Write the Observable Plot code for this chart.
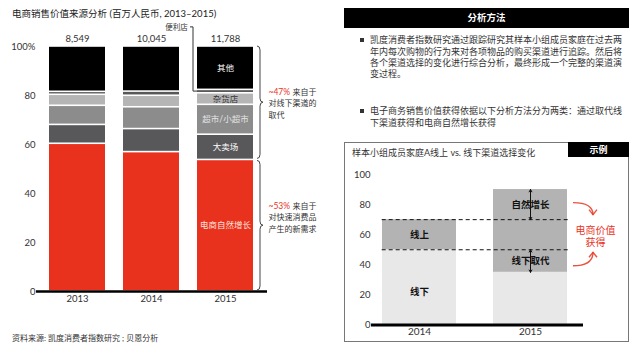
<!DOCTYPE html>
<html><head><meta charset="utf-8">
<script src="https://cdn.jsdelivr.net/npm/d3@7"></script>
<script src="https://cdn.jsdelivr.net/npm/@observablehq/plot@0.6"></script>
<style>
body{margin:0;background:#fff;}
#root{position:relative;width:640px;height:361px;overflow:hidden;background:#fff;font-family:Lato,"Noto Sans CJK SC",sans-serif;color:#333;}
.abs{position:absolute;white-space:nowrap;}
svg{position:absolute;overflow:visible;}
</style></head><body><div id="root"></div>
<script>
// ---------- data: main chart ----------
const years = ["2013", "2014", "2015"];
const totals = [8549, 10045, 11788];
const channels = ["电商自然增长", "大卖场", "超市/小超市", "杂货店", "便利店", "其他"];
const share2013 = [60.3, 7.7, 7.8, 4.5, 1.2, 18.5];
const share2014 = [56.9, 9.4, 8.9, 4.7, 1.7, 18.4];
const share2015 = [53.7, 10.3, 12.2, 4.7, 1.4, 17.7];
const yTicks = [0, 20, 40, 60, 80, 100];
const notePcts = ["~47%", "~53%"];
const noteFirst = ["来自于", "来自于"];
const noteRest = [["对线下渠道的", "取代"], ["对快速消费品", "产生的新需求"]];
const noteY = [76.7, 30.2];

// ---------- data: example chart ----------
const exYears = ["2014", "2015"];
const exSegments = ["线下", "线上"];
const exOffline = [50, 35];
const exOnline = [20, 55];
const exThresholds = [50, 70];
const exLabelText = ["线下", "线上", "自然增长", "线下取代"];
const exLabelYear = ["2014", "2014", "2015", "2015"];
const exLabelY = [22, 60, 80, 42.5];
const exSpanLo = [70, 35];
const exSpanHi = [90, 50];

// ---------- styles ----------
const FONT = 'Lato, "Noto Sans CJK SC", sans-serif';
const channelColors = ["#e8321e", "#58585a", "#8c8c8c", "#b5b5b5", "#58585a", "#000000"];
const labelColors = ["#fde2dd", "#ffffff", "#e4e4e4", "#333333", null, "#ffffff"];
const RED = "#e8321e";

const root = document.getElementById("root");
function addDiv(html, css) {
  const d = document.createElement("div");
  d.className = "abs";
  d.innerHTML = html;
  Object.assign(d.style, css);
  root.appendChild(d);
  return d;
}

// ---------- main chart ----------
const shares = [share2013, share2014, share2015];
const rows = [];
years.forEach((yr, i) => channels.forEach((c, j) => rows.push({year: yr, channel: c, value: shares[i][j]})));

const labelMarks = channels.map((c, j) => labelColors[j] == null ? null :
  Plot.text(rows, Plot.stackY({
    x: "year", y: "value",
    text: d => (d.year === "2015" && d.channel === c) ? c : "",
    fill: labelColors[j], fontSize: 8.5
  }))
).filter(Boolean);

const noteMarks = [];
notePcts.forEach((p, k) => {
  const base = [{year: "2015", y: noteY[k]}];
  noteMarks.push(Plot.text(base, {x: "year", y: "y", text: () => p, dx: 43, dy: -11, textAnchor: "start", fill: RED, fontSize: 8.5}));
  noteMarks.push(Plot.text(base, {x: "year", y: "y", text: () => noteFirst[k], dx: 67, dy: -11, textAnchor: "start", fill: "#333", fontSize: 8}));
  noteRest[k].forEach((t, m) => {
    noteMarks.push(Plot.text(base, {x: "year", y: "y", text: () => t, dx: 43, dy: m * 11.5, textAnchor: "start", fill: "#333", fontSize: 8}));
  });
});

const left = Plot.plot({
  width: 340, height: 311,
  marginTop: 46, marginBottom: 20, marginLeft: 36, marginRight: 73,
  x: {domain: years, paddingInner: 0.243, paddingOuter: 0.12, insetLeft: 4, insetRight: 5, label: null},
  y: {domain: [0, 100], label: null},
  color: {domain: channels, range: channelColors},
  style: {fontFamily: FONT, fontSize: "9.5px", color: "#333", background: "transparent", overflow: "visible"},
  marks: [
    Plot.barY(rows, {x: "year", y: "value", fill: "channel", insetTop: 0.8, insetBottom: 0.8}),
    Plot.ruleY([0], {stroke: "#000", strokeWidth: 2.5}),
    Plot.axisY({ticks: yTicks, tickSize: 0, tickPadding: 1, tickFormat: d => d === 100 ? "100%" : String(d), label: null, fill: "#333"}),
    Plot.axisX({tickSize: 0, tickPadding: 4, label: null, fill: "#333", fontSize: 9.5}),
    Plot.text(years, {x: d => d, y: () => 100, text: (d, i) => d3.format(",")(totals[i]), dy: -8, fill: "#333", fontSize: 9.5}),
    Plot.text([{year: "2015", y: 107.8}], {x: "year", y: "y", text: () => "便利店", dx: -49, fill: "#333", fontSize: 7.5}),
    ...labelMarks,
    ...noteMarks
  ]
});
left.style.left = "0px"; left.style.top = "0px";
root.appendChild(left);

// decorations via scales
{
  const xs = left.scale("x"), ys = left.scale("y");
  const svg = d3.select(left);
  const bx = xs.apply("2015"), bw = xs.bandwidth;
  const cum4 = share2015.slice(0, 4).reduce((a, b) => a + b, 0);
  const convMid = cum4 + share2015[4] / 2;
  svg.append("path")
    .attr("d", `M${bx - 7},${ys.apply(107.8)}H${bx - 4}V${ys.apply(convMid)}H${bx}`)
    .attr("fill", "none").attr("stroke", "#333").attr("stroke-width", 1);
  function brace(x, y1, y2, w) {
    const ym = (y1 + y2) / 2, q = 4, h = w / 2;
    return `M${x},${y1}Q${x + h},${y1} ${x + h},${y1 + q}L${x + h},${ym - q}Q${x + h},${ym} ${x + w},${ym}` +
      `Q${x + h},${ym} ${x + h},${ym + q}L${x + h},${y2 - q}Q${x + h},${y2} ${x},${y2}`;
  }
  const bxR = bx + bw + 4;
  const split = ys.apply(share2015[0]);
  svg.append("path").attr("d", brace(bxR, ys.apply(100), split - 1, 6))
    .attr("fill", "none").attr("stroke", "#444").attr("stroke-width", 1);
  svg.append("path").attr("d", brace(bxR, split + 1, ys.apply(0) - 1, 6))
    .attr("fill", "none").attr("stroke", "#444").attr("stroke-width", 1);
}

// ---------- texts ----------
addDiv("电商销售价值来源分析 (百万人民币, 2013–2015)", {left: "12px", top: "7px", fontSize: "9.5px", lineHeight: "14px", color: "#222"});
addDiv("资料来源: 凯度消费者指数研究 ; 贝恩分析", {left: "12px", top: "332px", fontSize: "8px", lineHeight: "12px", color: "#333"});

addDiv("分析方法", {left: "344px", top: "8px", width: "285px", height: "20px", background: "#000", color: "#fff", fontWeight: "bold", fontSize: "9.5px", lineHeight: "20px", textAlign: "center"});
addDiv("", {left: "360px", top: "38px", width: "4px", height: "4px", background: "#333"});
addDiv("凯度消费者指数研究通过跟踪研究其样本小组成员家庭在过去两<br>年内每次购物的行为来对各项物品的购买渠道进行追踪。然后将<br>各个渠道选择的变化进行综合分析，最终形成一个完整的渠道演<br>变过程。",
  {left: "370px", top: "34.3px", fontSize: "9px", lineHeight: "11.3px", color: "#333"});
addDiv("", {left: "360px", top: "109px", width: "4px", height: "4px", background: "#333"});
addDiv("电子商务销售价值获得依据以下分析方法分为两类：通过取代线<br>下渠道获得和电商自然增长获得",
  {left: "370px", top: "105.3px", fontSize: "9px", lineHeight: "11.3px", color: "#333"});

addDiv("", {left: "344px", top: "142px", width: "285px", height: "200px", border: "1px solid #777", boxSizing: "border-box"});
addDiv("示例", {left: "568px", top: "142px", width: "61px", height: "15px", background: "#000", color: "#fff", fontWeight: "bold", fontSize: "9px", lineHeight: "15px", textAlign: "center"});
addDiv("样本小组成员家庭A线上 vs. 线下渠道选择变化", {left: "352px", top: "147px", fontSize: "9px", lineHeight: "12px", color: "#333"});

// ---------- example chart ----------
const exRows = [];
exYears.forEach((yr, i) => {
  exRows.push({year: yr, seg: exSegments[0], value: exOffline[i]});
  exRows.push({year: yr, seg: exSegments[1], value: exOnline[i]});
});
const exLabels = exLabelText.map((t, i) => ({year: exLabelYear[i], y: exLabelY[i], text: t}));
const exSpans = exSpanLo.map((lo, i) => ({year: "2015", lo, hi: exSpanHi[i], mid: (lo + exSpanHi[i]) / 2}));

const ex = Plot.plot({
  width: 285, height: 200,
  marginTop: 32, marginBottom: 17.5, marginLeft: 27, marginRight: 46,
  x: {domain: exYears, paddingInner: 0.333, paddingOuter: 0, insetLeft: 10.7, insetRight: 16, label: null},
  y: {domain: [0, 100], label: null},
  color: {domain: exSegments, range: ["#e8e8e8", "#b3b3b3"]},
  style: {fontFamily: FONT, fontSize: "9.5px", color: "#333", background: "transparent", overflow: "visible"},
  marks: [
    Plot.barY(exRows, {x: "year", y: "value", fill: "seg"}),
    Plot.ruleY(exThresholds, {stroke: "#111", strokeWidth: 1, strokeDasharray: "4,3", insetLeft: 10.7, insetRight: 15}),
    Plot.ruleY([0], {stroke: "#000", strokeWidth: 3}),
    Plot.axisY({ticks: [0, 20, 40, 60, 80, 100], tickSize: 0, tickPadding: 1, label: null, fill: "#333"}),
    Plot.axisX({tickSize: 0, tickPadding: 3, label: null, fill: "#333", fontSize: 10}),
    Plot.arrow(exSpans, {x1: "year", x2: "year", y1: "mid", y2: "hi", stroke: "#111", strokeWidth: 1, headLength: 4}),
    Plot.arrow(exSpans, {x1: "year", x2: "year", y1: "mid", y2: "lo", stroke: "#111", strokeWidth: 1, headLength: 4}),
    Plot.text(exLabels, {x: "year", y: "y", text: "text", fill: "#111", fontWeight: "bold", fontSize: 9.5}),
    Plot.text([{year: "2015", y: 59, text: "电商价值\n获得"}], {x: "year", y: "y", text: "text", dx: 65, fill: RED, fontSize: 10, lineHeight: 1.2})
  ]
});
ex.style.left = "344px"; ex.style.top = "142px";
root.appendChild(ex);

{
  const xs = ex.scale("x"), ys = ex.scale("y");
  const svg = d3.select(ex);
  const xr = xs.apply("2015") + xs.bandwidth;
  function curved(y0, y1) {
    const sx = xr + 6, ex2 = xr + 26, sy = ys.apply(y0), ey = ys.apply(y1);
    const dir = ey > sy ? 1 : -1;
    svg.append("path")
      .attr("d", `M${sx},${sy}Q${ex2},${sy} ${ex2},${ey}`)
      .attr("fill", "none").attr("stroke", RED).attr("stroke-width", 1.4).attr("opacity", 0.85);
    svg.append("path")
      .attr("d", `M${ex2 - 4},${ey - dir * 5}L${ex2},${ey}L${ex2 + 4},${ey - dir * 5}`)
      .attr("fill", "none").attr("stroke", RED).attr("stroke-width", 1.4).attr("opacity", 0.85);
  }
  curved(81, 73);
  curved(39, 48);
}
</script></body></html>
